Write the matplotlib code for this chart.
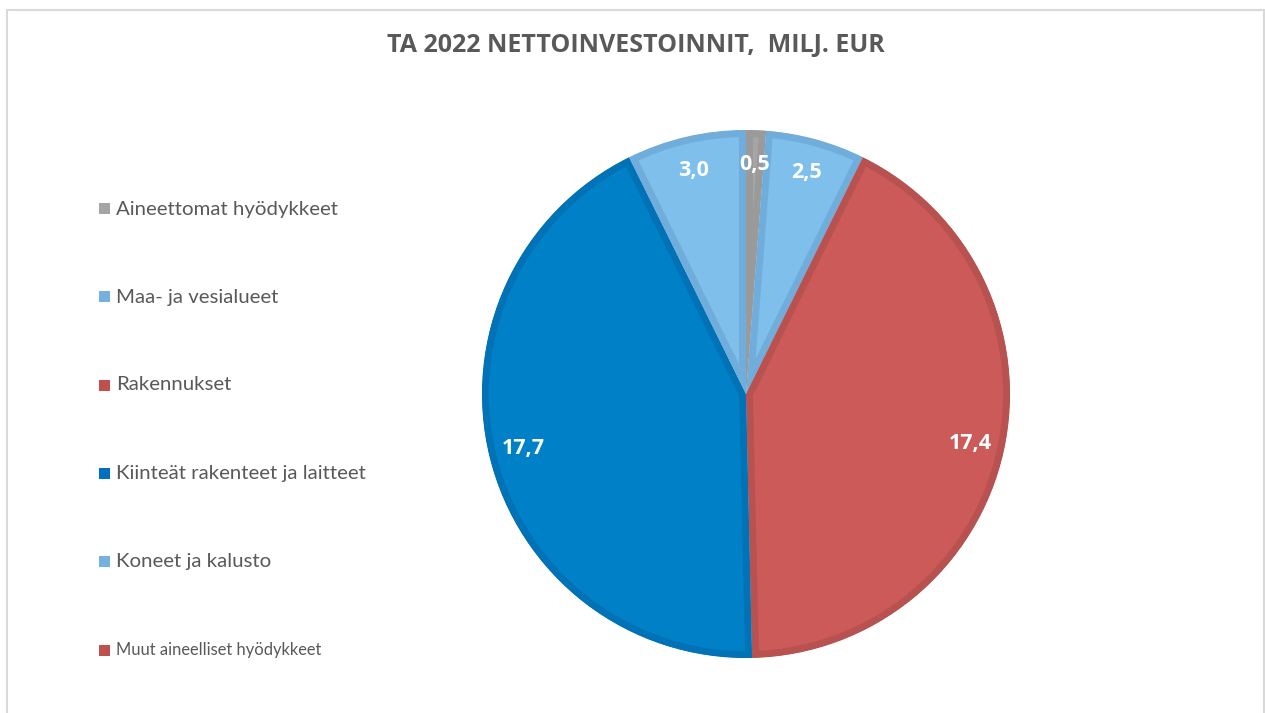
import matplotlib
matplotlib.use("Agg")
import matplotlib.pyplot as plt
import matplotlib.patches as mpatches

# ---- data ----
categories = ["Aineettomat hyödykkeet", "Maa- ja vesialueet", "Rakennukset",
              "Kiinteät rakenteet ja laitteet", "Koneet ja kalusto",
              "Muut aineelliset hyödykkeet"]
values = [0.5, 2.5, 17.4, 17.7, 3.0, 0.0]
fill_colors = ["#A5A5A5", "#7FBFEB", "#CC5A58", "#0080C7", "#7FBFEB", "#CC5A58"]
edge_colors = ["#9A9A9A", "#71ADDA", "#B85250", "#0072B5", "#71ADDA", "#B85250"]
legend_colors = ["#A5A5A5", "#74B1DF", "#C0504D", "#0070C0", "#74B1DF", "#C0504D"]
title = "TA 2022 NETTOINVESTOINNIT,  MILJ. EUR"

W, H = 1265, 713
fig = plt.figure(figsize=(W / 100, H / 100), dpi=100)
fig.patch.set_facecolor("white")

# border frame
frame = mpatches.Rectangle((7 / W, -0.05), (1264 - 7) / W, 1.05 - 10 / H,
                           transform=fig.transFigure, fill=False,
                           edgecolor="#D9D9D9", linewidth=1.5)
fig.patches.append(frame)

# pie
cx, cy, r = 746, 394, 264
ax = fig.add_axes([(cx - r) / W, (H - cy - r) / H, 2 * r / W, 2 * r / H])
nz = [(v, f, e) for v, f, e in zip(values, fill_colors, edge_colors) if v > 0]
vals = [t[0] for t in nz]
total = sum(vals)
wedges, texts, autotexts = ax.pie(
    vals, colors=[t[1] for t in nz], startangle=90, counterclock=False,
    radius=1.0, pctdistance=0.87,
    autopct=lambda p: f"{p * total / 100:.1f}".replace(".", ","),
    textprops=dict(color="white", fontweight="bold", fontsize=15.5,
                   family=["Open Sans", "DejaVu Sans"]))
for w, t in zip(wedges, nz):
    w.set_edgecolor(t[2])
    w.set_linewidth(10)
    w.set_clip_on(True)
    w.set_clip_path(w)
ax.set_xlim(-1, 1)
ax.set_ylim(-1, 1)
ax.set_aspect("equal")
ax.axis("off")

# title
fig.text(636 / W, 1 - 45 / H, title, ha="center", va="center",
         fontsize=18, fontweight="bold", color="#595959",
         family=["Open Sans", "DejaVu Sans"])

# legend (manual)
row_y = [209, 297, 385, 473, 561, 650]
for i, (cat, col) in enumerate(zip(categories, legend_colors)):
    y = row_y[i]
    fs = 14.7 if i < 5 else 11.9
    sq = 11
    fig.patches.append(mpatches.Rectangle((99 / W, (H - y - sq / 2) / H), sq / W, sq / H,
                                          transform=fig.transFigure,
                                          facecolor=col, edgecolor="none"))
    fig.text(116 / W, 1 - y / H, cat, ha="left", va="center", fontsize=fs,
             color="#595959", family=["Lato", "DejaVu Sans"])

fig.savefig("out.png", dpi=100)
